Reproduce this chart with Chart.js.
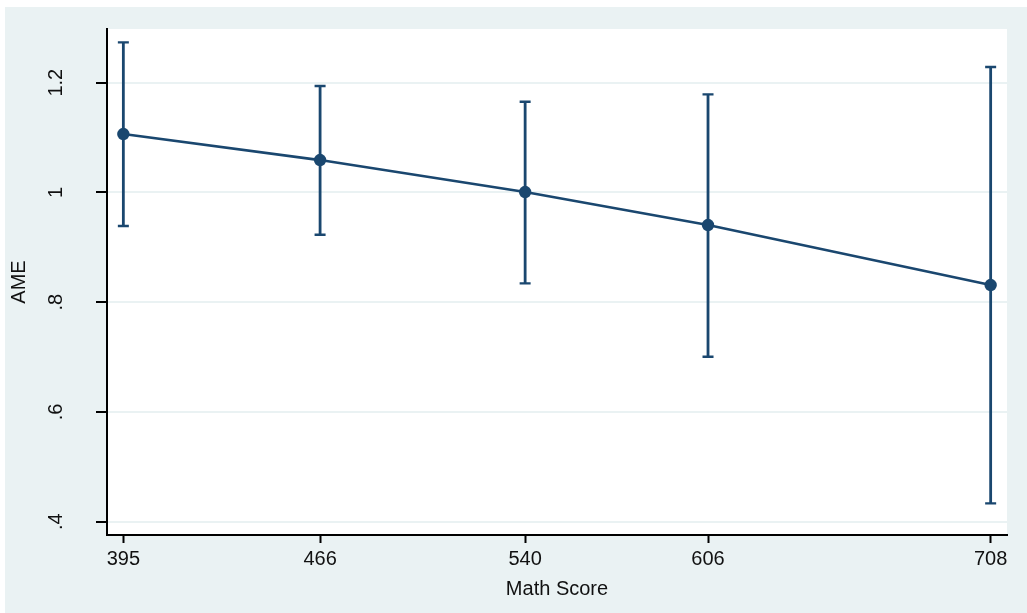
<!DOCTYPE html>
<html>
<head>
<meta charset="utf-8">
<script src="https://cdn.jsdelivr.net/npm/chart.js@4/dist/chart.umd.min.js"></script>
<style>
  html, body { margin: 0; padding: 0; background: #ffffff; }
  #wrap { width: 1027px; height: 613px; position: relative; }
</style>
</head>
<body>
<div id="wrap"><canvas id="c" width="1027" height="613"></canvas></div>
<script>
// ---- data ----
const mathScores = [395, 466, 540, 606, 708];
const ame        = [1.1065, 1.0591, 1.0008, 0.9407, 0.8313];
const ciUpper    = [1.2736, 1.194, 1.1654, 1.1788, 1.2286];
const ciLower    = [0.9389, 0.923, 0.8344, 0.7007, 0.4335];
const xTicks     = [395, 466, 540, 606, 708];
const yTicks     = [0.4, 0.6, 0.8, 1.0, 1.2];

const NAVY = '#1a476f';
const BG = '#eaf2f3';
const FONT = "'Liberation Sans', Arial, sans-serif";

const bgPlugin = {
  id: 'bg',
  beforeDraw(chart) {
    const ctx = chart.ctx;
    const a = chart.chartArea;
    ctx.save();
    ctx.fillStyle = '#ffffff';
    ctx.fillRect(0, 0, chart.width, chart.height);
    ctx.fillStyle = BG;
    ctx.fillRect(5, 7, chart.width - 5, chart.height - 7);
    ctx.fillStyle = '#ffffff';
    ctx.fillRect(a.left, a.top, a.right - a.left, a.bottom - a.top);
    ctx.restore();
  }
};

const errorBarPlugin = {
  id: 'errbars',
  beforeDatasetsDraw(chart) {
    const ctx = chart.ctx;
    const xs = chart.scales.x, ys = chart.scales.y;
    ctx.save();
    ctx.strokeStyle = NAVY;
    ctx.lineCap = 'butt';
    for (let i = 0; i < mathScores.length; i++) {
      const px = xs.getPixelForValue(mathScores[i]);
      const yu = ys.getPixelForValue(ciUpper[i]);
      const yl = ys.getPixelForValue(ciLower[i]);
      ctx.lineWidth = 2.8;
      ctx.beginPath();
      ctx.moveTo(px, yu);
      ctx.lineTo(px, yl);
      ctx.stroke();
      ctx.lineWidth = 2.4;
      ctx.beginPath();
      ctx.moveTo(px - 5.5, yu); ctx.lineTo(px + 5.5, yu);
      ctx.moveTo(px - 5.5, yl); ctx.lineTo(px + 5.5, yl);
      ctx.stroke();
    }
    ctx.restore();
  }
};

new Chart(document.getElementById('c'), {
  type: 'scatter',
  data: {
    datasets: [{
      data: mathScores.map((x, i) => ({ x: x, y: ame[i] })),
      showLine: true,
      borderColor: NAVY,
      borderWidth: 2.7,
      backgroundColor: NAVY,
      pointBackgroundColor: NAVY,
      pointBorderColor: NAVY,
      pointRadius: 6.2,
      pointBorderWidth: 0,
      tension: 0
    }]
  },
  options: {
    responsive: false,
    animation: false,
    devicePixelRatio: 1,
    layout: { padding: { left: 0, top: 29, right: 20, bottom: 0 } },
    plugins: { legend: { display: false }, tooltip: { enabled: false } },
    scales: {
      x: {
        type: 'linear',
        min: 389.1,
        max: 713.9,
        afterBuildTicks(scale) { scale.ticks = xTicks.map(v => ({ value: v })); },
        afterFit(scale) { scale.height = 78; scale.paddingLeft = 0; scale.paddingRight = 0; },
        grid: { drawOnChartArea: false, drawTicks: true, tickLength: 8, tickWidth: 2, tickColor: '#000' },
        border: { display: true, color: '#000', width: 2 },
        ticks: {
          color: '#111', font: { family: FONT, size: 20 }, padding: 4,
          maxRotation: 0, minRotation: 0, autoSkip: false,
          callback: v => String(v)
        },
        title: {
          display: true, text: 'Math Score', color: '#111',
          font: { family: FONT, size: 20 }, padding: { top: 0, bottom: 12 }
        }
      },
      y: {
        type: 'linear',
        min: 0.3758,
        max: 1.2979,
        afterBuildTicks(scale) { scale.ticks = yTicks.map(v => ({ value: v })); },
        afterFit(scale) { scale.width = 107; scale.paddingTop = 0; scale.paddingBottom = 0; },
        grid: { color: BG, lineWidth: 2, drawTicks: true, tickLength: 11, tickWidth: 2, tickColor: '#000' },
        border: { display: true, color: '#000', width: 2 },
        ticks: {
          color: '#111', font: { family: FONT, size: 20 }, padding: 26,
          minRotation: 90, maxRotation: 90, crossAlign: 'center', autoSkip: false,
          callback: v => {
            const r = Math.round(v * 10) / 10;
            let s = String(r);
            if (s.startsWith('0.')) s = s.slice(1);
            return s;
          }
        },
        title: {
          display: true, text: 'AME', color: '#111',
          font: { family: FONT, size: 20 }, padding: { top: 7, bottom: 0 }
        }
      }
    }
  },
  plugins: [bgPlugin, errorBarPlugin]
});
</script>
</body>
</html>
